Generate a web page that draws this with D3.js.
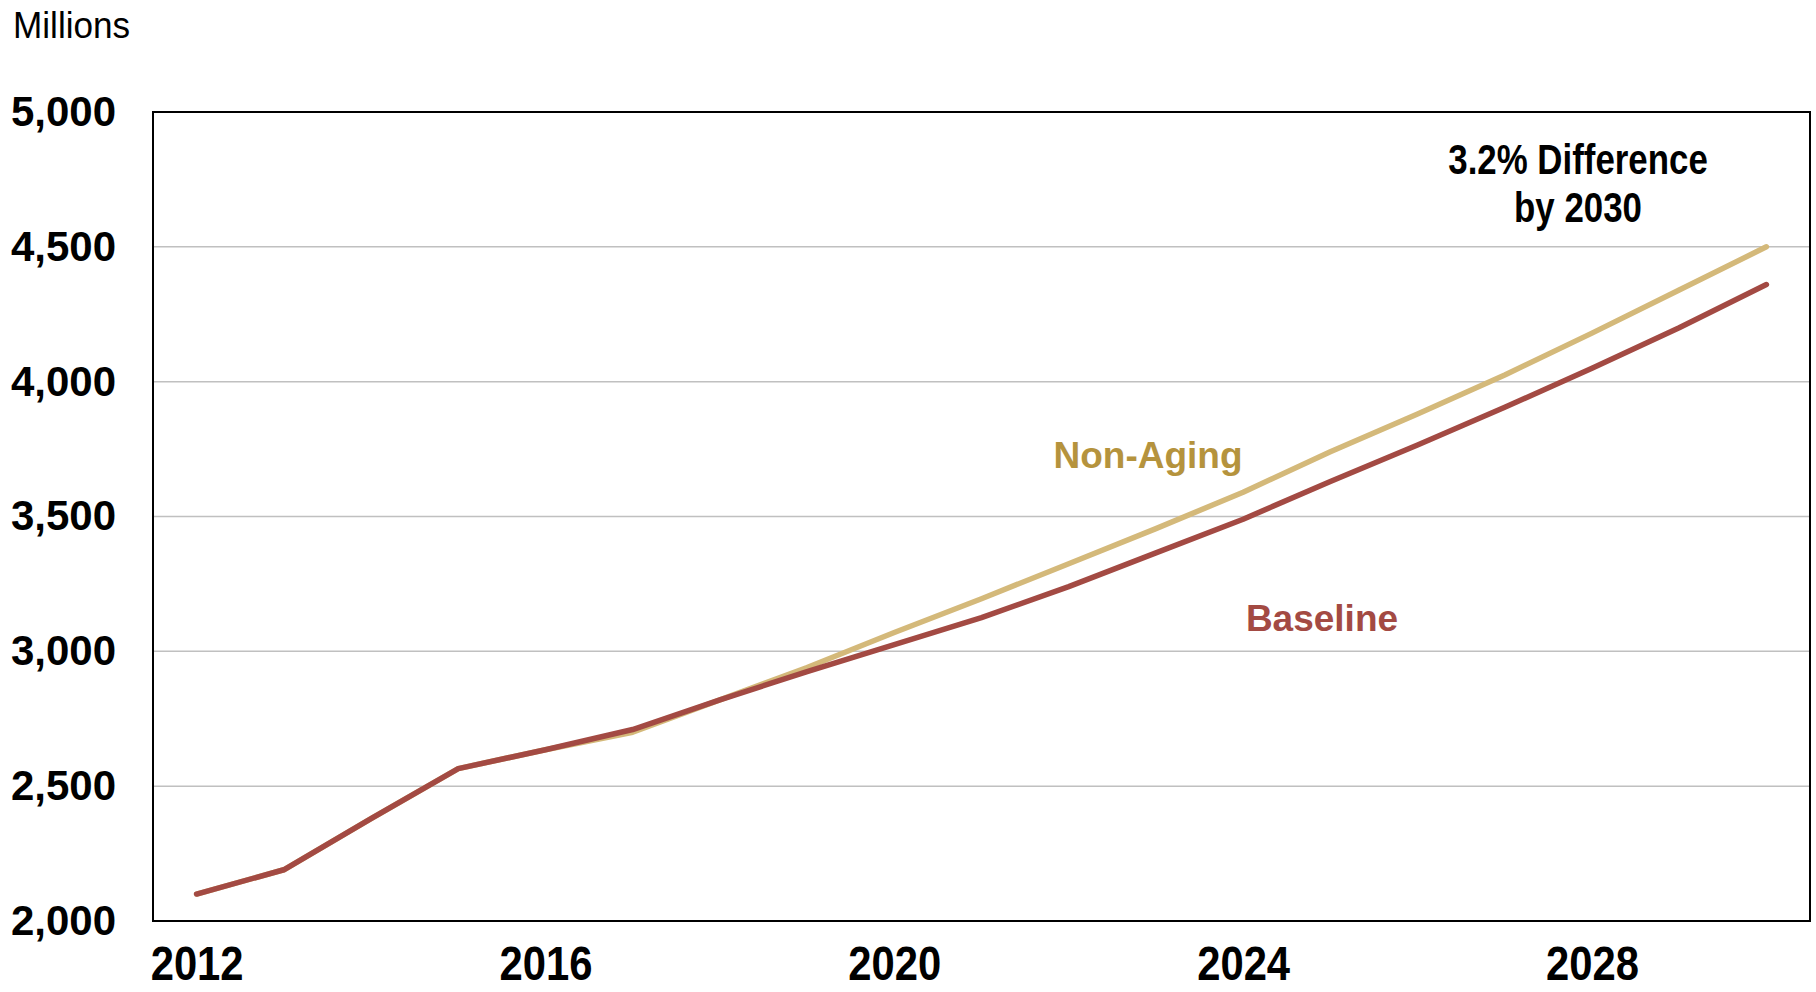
<!doctype html>
<html>
<head>
    <script src="https://d3js.org/d3.v7.min.js"></script>
</head>
<style>
    body { margin: 0; background: #fff; }
    svg text { fill: #000; }
    .grid line { stroke: #c0c0c0; stroke-width: 1.5; }
    .yaxis text { font: bold 42px "Liberation Sans", Arial, sans-serif; }
    .xaxis text { font: bold 48px "Liberation Sans", Arial, sans-serif; }
</style>
<body>
<script>
    // values (millions)
    var years = [2012, 2013, 2014, 2015, 2016, 2017, 2018, 2019, 2020, 2021,
                 2022, 2023, 2024, 2025, 2026, 2027, 2028, 2029, 2030];
    var baseline = [2100, 2190, 2380, 2565, 2635, 2710, 2820, 2925, 3025, 3125,
                    3240, 3365, 3490, 3630, 3765, 3905, 4050, 4200, 4360];
    var nonAging = [2100, 2190, 2380, 2565, 2635, 2700, 2820, 2940, 3070, 3195,
                    3325, 3455, 3590, 3740, 3880, 4025, 4180, 4340, 4500];
    var yTicks = [2000, 2500, 3000, 3500, 4000, 4500, 5000];
    var xTicks = [2012, 2016, 2020, 2024, 2028];

    var width = 1816, height = 992;
    var plotLeft = 153, plotRight = 1810, plotTop = 112, plotBottom = 921;

    var svg = d3.select("body").append("svg")
        .attr("width", width)
        .attr("height", height);

    var x = d3.scaleLinear().domain([2011.5, 2030.5]).range([plotLeft, plotRight]);
    var y = d3.scaleLinear().domain([2000, 5000]).range([plotBottom, plotTop]);

    // gridlines
    svg.append("g").attr("class", "grid")
        .selectAll("line")
        .data(yTicks.slice(1, -1))
        .enter().append("line")
        .attr("x1", plotLeft).attr("x2", plotRight)
        .attr("y1", function(d) { return y(d); })
        .attr("y2", function(d) { return y(d); });

    // axes, no tick marks
    var yAxis = svg.append("g").attr("class", "yaxis")
        .attr("transform", "translate(" + plotLeft + ",0)")
        .call(d3.axisLeft(y).tickValues(yTicks).tickSize(0).tickPadding(37).tickFormat(d3.format(",")));
    yAxis.select(".domain").remove();

    var xAxis = svg.append("g").attr("class", "xaxis")
        .attr("transform", "translate(0," + plotBottom + ")")
        .call(d3.axisBottom(x).tickValues(xTicks).tickSize(0).tickPadding(25).tickFormat(d3.format("d")));
    xAxis.select(".domain").remove();
    // the years are in a narrow face, squeeze them
    xAxis.selectAll("text").attr("transform", "scale(0.87,1)");

    // plot frame
    svg.append("rect")
        .attr("x", plotLeft).attr("y", plotTop)
        .attr("width", plotRight - plotLeft).attr("height", plotBottom - plotTop)
        .attr("fill", "none").attr("stroke", "#000").attr("stroke-width", 2);

    var line = d3.line()
        .x(function(d, i) { return x(years[i]); })
        .y(function(d) { return y(d); });

    // tan first so the red one sits on top where they overlap
    svg.append("path").datum(nonAging)
        .attr("d", line)
        .attr("fill", "none").attr("stroke", "#d4b97a")
        .attr("stroke-width", 5.5).attr("stroke-linecap", "round").attr("stroke-linejoin", "round");

    svg.append("path").datum(baseline)
        .attr("d", line)
        .attr("fill", "none").attr("stroke", "#a34a43")
        .attr("stroke-width", 5.5).attr("stroke-linecap", "round").attr("stroke-linejoin", "round");

    // labels
    svg.append("text")
        .attr("x", 13).attr("y", 38)
        .attr("transform", "translate(13,0) scale(0.95,1) translate(-13,0)")
        .style("font", "37px 'Liberation Sans', Arial, sans-serif")
        .text("Millions");

    svg.append("text")
        .attr("x", 1148).attr("y", 468)
        .attr("text-anchor", "middle")
        .style("font", "bold 37px 'Liberation Sans', Arial, sans-serif")
        .style("fill", "#b5933d")
        .text("Non-Aging");

    svg.append("text")
        .attr("x", 1322).attr("y", 631)
        .attr("text-anchor", "middle")
        .style("font", "bold 37px 'Liberation Sans', Arial, sans-serif")
        .style("fill", "#a34a43")
        .text("Baseline");

    var note = svg.append("g")
        .attr("transform", "translate(1578,0) scale(0.83,1)")
        .append("text")
        .attr("text-anchor", "middle")
        .style("font", "bold 42px 'Liberation Sans', Arial, sans-serif");
    note.append("tspan").attr("x", 0).attr("y", 174).text("3.2% Difference");
    note.append("tspan").attr("x", 0).attr("y", 222).text("by 2030");
</script>
</body>
</html>
